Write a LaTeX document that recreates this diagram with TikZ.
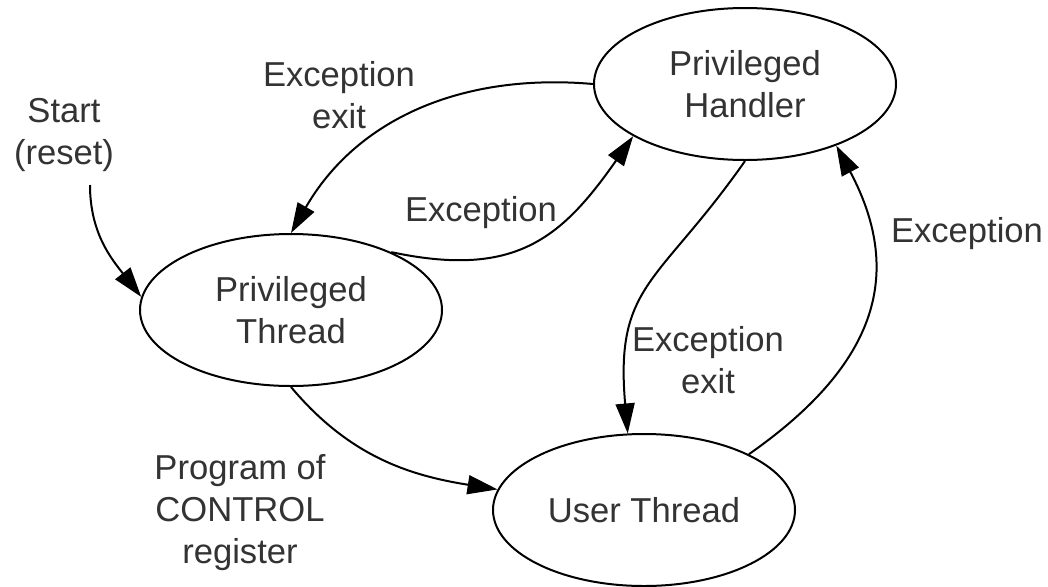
\documentclass[tikz,border=0pt]{standalone}
\usepackage{fontspec}
\setmainfont{Liberation Sans}
\usetikzlibrary{shapes.geometric,arrows.meta}

\begin{document}
\begin{tikzpicture}[x=0.5pt,y=0.5pt,
    every node/.style={font=\fontsize{17.3}{21}\selectfont,text=black!80},
    state/.style={ellipse,draw,line width=1pt,minimum width=151pt,minimum height=76pt,inner sep=0pt,align=center},
    lbl/.style={align=center,inner sep=0pt},
    trans/.style={line width=1pt,-{Triangle[length=15pt,width=9.5pt]}}]
    \useasboundingbox (0,0) rectangle (1048,586);

    % Estados
    \node[state] (handler) at (745,502) {Privileged\\Handler};
    \node[state] (pthread) at (291,276) {Privileged\\Thread};
    \node[state] (user) at (644,76) {User Thread};

    % Etiquetas
    \node[lbl] (start) at (64,451) {Start\\(reset)};
    \node[lbl] (exit1) at (339,491) {Exception\\exit};
    \node[lbl] (exc1) at (481,373) {Exception};
    \node[lbl] (exc2) at (967,352) {Exception};
    \node[lbl] (exit2) at (708,226) {Exception\\exit};
    \node[lbl] (prog) at (240,73) {Program of\\CONTROL\\register};

    % Transiciones
    \coordinate (s0) at (90,401);
    \draw[trans] (s0) to[out=-90,in=128] (pthread.175);
    \draw[trans] (handler.west) to[out=175,in=60] (pthread.north);
    \draw[trans] (pthread.30) to[out=-12,in=-125,looseness=1.2] (handler.205);
    \draw[trans] (handler.south) to[out=-125,in=95,looseness=1.3] (user.102);
    \draw[trans] (user.28) to[out=35,in=-62,looseness=1.2] (handler.-34);
    \draw[trans] (pthread.south) to[out=-50,in=171] (user.172);
\end{tikzpicture}
\end{document}
